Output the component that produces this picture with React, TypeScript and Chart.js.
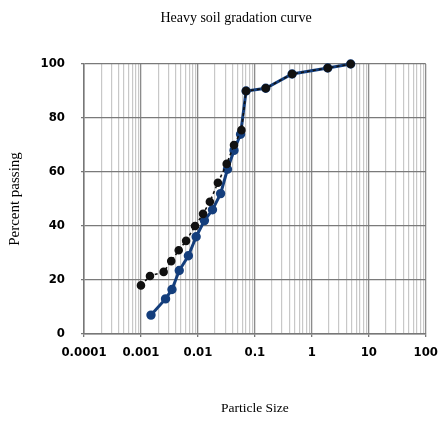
import React, { useEffect, useRef } from "react";
import { Chart, registerables } from "chart.js";

Chart.register(...registerables);

const chartTitle = "Heavy soil gradation curve";
const xTitle = "Particle Size";
const yTitle = "Percent passing";

const xDecades = [0.0001, 0.001, 0.01, 0.1, 1, 10, 100];
const xTickLabels = ["0.0001", "0.001", "0.01", "0.1", "1", "10", "100"];
const yTickValues = [0, 20, 40, 60, 80, 100];

// Series 1 (black, dotted)
const blackSizes = [0.001, 0.00144, 0.0025, 0.0034, 0.0046, 0.0062, 0.0089, 0.0123, 0.0162, 0.0224, 0.032, 0.043, 0.058, 0.07, 0.155, 0.45, 1.9, 4.8];
const blackPassing = [18, 21.5, 23, 27, 31, 34.5, 40, 44.5, 49, 56, 63, 70, 75.5, 90, 91, 96.3, 98.5, 100];

// Series 2 (blue, solid)
const blueSizes = [0.0015, 0.0027, 0.0035, 0.0047, 0.0068, 0.0093, 0.013, 0.018, 0.025, 0.033, 0.043, 0.056, 0.07, 0.155, 0.45, 1.9, 4.8];
const bluePassing = [7, 13, 16.5, 23.5, 29, 36, 42, 46, 52, 61, 68, 74, 90, 91, 96.3, 98.5, 100];

const tickFont = { family: "'DejaVu Sans Condensed', 'Liberation Sans Narrow', 'Liberation Sans', sans-serif", size: 13, weight: "bold" as const };
const serifFamily = "'Liberation Serif', 'Times New Roman', serif";

function isDecade(v: number) {
  const l = Math.log10(v);
  return Math.abs(l - Math.round(l)) < 1e-9;
}

function gridValues() {
  const vals: number[] = [];
  for (let i = 0; i < xDecades.length - 1; i++) {
    for (let d = 1; d <= 9; d++) vals.push(xDecades[i] * d);
  }
  vals.push(xDecades[xDecades.length - 1]);
  return vals;
}

const titlePlugin = {
  id: "topTitle",
  afterDraw(chart: any) {
    const ctx = chart.ctx;
    ctx.save();
    ctx.font = `14px ${serifFamily}`;
    ctx.fillStyle = "#000";
    ctx.textAlign = "center";
    ctx.textBaseline = "middle";
    ctx.fillText(chartTitle, 236, 18);
    ctx.restore();
  },
};

export default function App() {
  const ref = useRef<HTMLCanvasElement | null>(null);
  useEffect(() => {
    if (!ref.current) return;
    const chart = new Chart(ref.current, {
      type: "scatter",
      data: {
        datasets: [
          {
            label: "Series 1",
            data: blackSizes.map((x, i) => ({ x, y: blackPassing[i] })),
            showLine: true,
            clip: false,
            borderColor: "#111111",
            borderWidth: 1.6,
            borderDash: [3, 3],
            pointRadius: 3.5,
            pointBackgroundColor: "#111111",
            pointBorderColor: "#111111",
            tension: 0,
          },
          {
            label: "Series 2",
            data: blueSizes.map((x, i) => ({ x, y: bluePassing[i] })),
            showLine: true,
            clip: false,
            borderColor: "#143e7c",
            borderWidth: 3,
            pointRadius: 3.2,
            pointBackgroundColor: "#143e7c",
            pointBorderColor: "#143e7c",
            tension: 0,
          },
        ],
      },
      options: {
        animation: false,
        responsive: false,
        devicePixelRatio: 1,
        layout: { padding: { top: 64, right: 20, left: 0, bottom: 0 } },
        plugins: { legend: { display: false }, tooltip: { enabled: false }, title: { display: false } },
        scales: {
          x: {
            type: "logarithmic",
            position: "bottom",
            min: 0.0001,
            max: 100,
            afterBuildTicks: (s: any) => {
              s.ticks = gridValues().map((v) => ({ value: v }));
            },
            afterFit: (s: any) => {
              s.height = 87;
            },
            ticks: {
              autoSkip: false,
              maxRotation: 0,
              padding: 8,
              color: "#000",
              font: tickFont,
              callback: (v: any) => {
                const n = Number(v);
                if (!isDecade(n)) return "";
                const idx = xDecades.findIndex((d) => Math.abs(Math.log10(d) - Math.log10(n)) < 1e-9);
                return idx >= 0 ? xTickLabels[idx] : "";
              },
            },
            grid: {
              color: (c: any) => (c.tick && isDecade(c.tick.value) ? "#8c8c8c" : "#c8c8c8"),
              lineWidth: (c: any) => (c.tick && isDecade(c.tick.value) ? 1.3 : 1.2),
              tickLength: 3,
              tickColor: (c: any) => (c.tick && isDecade(c.tick.value) ? "#777" : "rgba(0,0,0,0)"),
            },
            border: { color: "#777", width: 1.5 },
            title: { display: true, text: xTitle, color: "#000", font: { family: serifFamily, size: 13.5 }, padding: { top: 0, bottom: 4 } },
          },
          y: {
            min: 0,
            max: 100,
            afterBuildTicks: (s: any) => {
              s.ticks = yTickValues.map((v) => ({ value: v }));
            },
            afterFit: (s: any) => {
              s.width = 84;
            },
            ticks: { padding: 16, color: "#000", font: tickFont },
            grid: { color: "#7a7a7a", lineWidth: 1.3, tickLength: 3, tickColor: "#777" },
            border: { color: "#777", width: 1.5 },
            title: { display: true, text: yTitle, color: "#000", font: { family: serifFamily, size: 15 }, padding: { top: 6, bottom: 0 } },
          },
        },
      },
      plugins: [titlePlugin],
    });
    return () => chart.destroy();
  }, []);
  return (
    <div style={{ position: "absolute", left: 0, top: 0, width: 446, height: 421, background: "#fff" }}>
      <canvas ref={ref} width={446} height={421} style={{ width: 446, height: 421, display: "block" }} />
    </div>
  );
}
